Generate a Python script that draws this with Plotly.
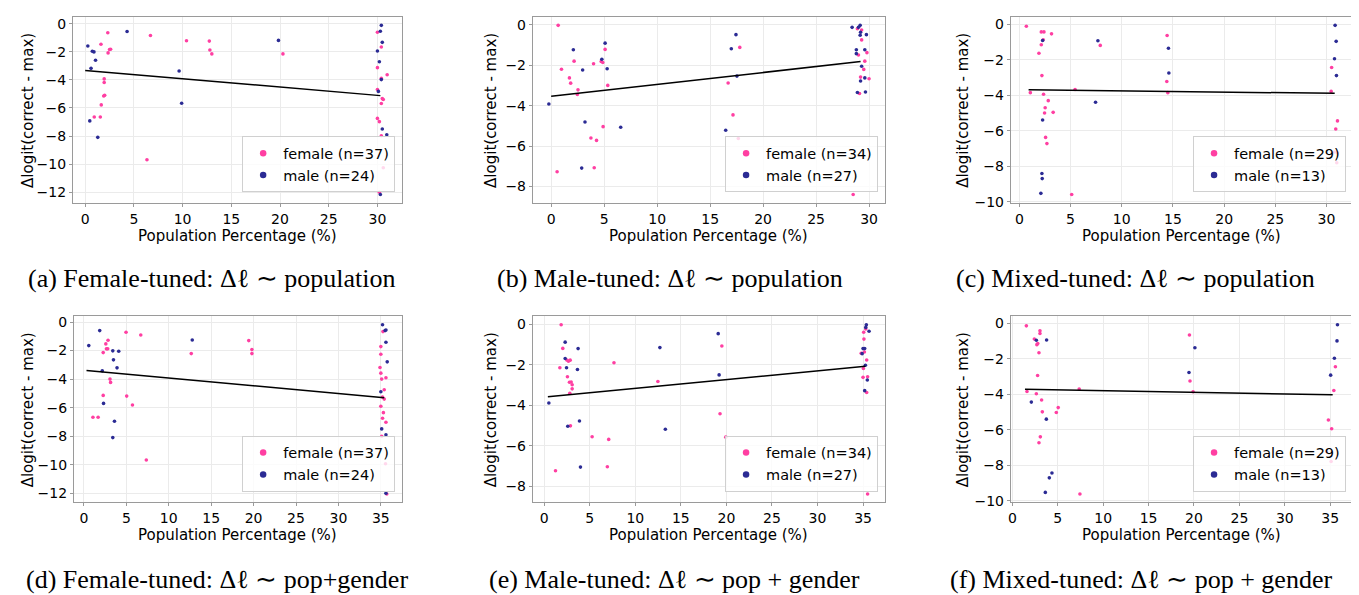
import plotly.graph_objects as go

W, H = 1359, 595
PINK = "#ff3fa2"
NAVY = "#2b2b94"

# ---------------- data ----------------
# (a) Female-tuned ~ population
a_female_x = [2.32, 1.62, 2.61, 2.5, 2.35, 6.70, 10.4, 12.74, 12.8, 13.0, 20.3, 1.95, 1.95, 2.0, 1.9, 1.65, 0.93, 1.55, 6.34,
              30.0, 30.4, 30.0, 30.4, 31.0, 30.0, 30.5, 30.6, 30.4, 30.0, 30.2, 30.4, 30.6, 30.2]
a_female_y = [-0.65, -1.47, -1.82, -1.84, -2.08, -0.84, -1.22, -1.24, -1.87, -2.15, -2.15, -3.93, -4.19, -5.1, -5.15, -5.78, -6.64, -6.64, -9.68,
              -0.61, -1.66, -3.13, -3.88, -3.63, -4.68, -5.33, -5.4, -5.68, -6.74, -6.97, -7.98, -10.25, -12.0]
a_male_x = [0.27, 0.73, 0.9, 1.06, 0.6, 4.3, 9.64, 9.9, 19.84, 0.47, 1.29,
            30.4, 30.3, 30.5, 30.0, 30.2, 30.4, 30.1, 30.5, 30.96, 30.3]
a_male_y = [-1.59, -1.96, -2.01, -2.6, -3.18, -0.56, -3.37, -5.66, -1.19, -6.92, -8.09,
            -0.12, -0.54, -1.33, -1.94, -2.71, -3.98, -4.82, -7.49, -7.91, -12.16]
a_fit_x = [0.0, 30.3]
a_fit_y = [-3.33, -5.12]

# (b) Male-tuned ~ population
b_female_x = [0.66, 0.97, 1.72, 1.84, 2.16, 2.53, 2.47, 4.0, 4.72, 4.87, 5.09, 5.34, 3.75, 4.28, 4.9, 0.56, 4.06, 16.7, 17.16, 17.66, 17.8,
              28.9, 29.3, 29.3, 29.0, 29.8, 29.6, 29.5, 29.2, 30.0, 29.1, 28.5]
b_female_y = [-0.03, -2.2, -2.63, -2.89, -1.8, -3.22, -3.45, -1.93, -1.82, -1.87, -1.22, -3.0, -5.6, -5.72, -5.04, -7.27, -7.07, -2.88, -4.46, -5.63, -1.12,
              -0.2, -0.26, -0.75, -1.5, -1.38, -1.8, -2.21, -2.59, -2.67, -3.4, -8.4]
b_male_x = [-0.22, 2.09, 2.97, 3.19, 2.88, 4.78, 5.09, 5.28, 6.56, 16.47, 17.0, 17.44, 17.53,
            28.4, 29.0, 29.16, 29.2, 29.16, 29.75, 28.8, 28.8, 29.6, 29.3, 29.6, 29.2, 28.9, 29.66]
b_male_y = [-3.92, -1.24, -2.24, -4.81, -7.09, -1.71, -0.91, -2.18, -5.07, -5.22, -1.19, -0.49, -2.54,
            -0.13, -0.13, -0.03, -0.37, -0.52, -0.49, -1.24, -1.43, -1.24, -2.05, -2.63, -2.78, -3.35, -3.33]
b_fit_x = [0.0, 29.2]
b_fit_y = [-3.54, -1.82]

# (c) Mixed-tuned ~ population
c_female_x = [0.68, 2.14, 2.4, 2.33, 2.14, 1.91, 3.14, 2.2, 1.07, 2.36, 2.82, 2.52, 2.46, 3.3, 2.56, 2.69, 5.44, 5.11, 7.9, 14.43, 14.4, 14.5,
              30.5, 30.45, 31.07, 30.9, 30.8, 31.07, 31.0]
c_female_y = [-0.11, -0.43, -0.43, -0.87, -1.15, -1.63, -0.54, -2.89, -3.85, -3.94, -4.3, -4.7, -5.0, -4.96, -6.37, -6.72, -3.67, -9.59, -1.19, -0.63, -3.22, -3.85,
              -2.43, -3.78, -5.44, -5.9, -7.19, -7.24, -7.8]
c_male_x = [2.27, 7.67, 14.56, 14.6, 7.44, 2.27, 2.2, 2.23, 2.1, 30.84, 30.94, 30.78, 30.97]
c_male_y = [-0.91, -0.93, -1.35, -2.74, -4.39, -5.39, -8.4, -8.69, -9.52, -0.06, -0.96, -1.94, -2.89]
c_fit_x = [0.9, 30.8]
c_fit_y = [-3.69, -3.89]

# (d) Female-tuned ~ pop + gender
d_female_x = [4.96, 6.7, 2.84, 2.58, 2.65, 2.8, 2.27, 3.07, 3.14, 2.27, 5.04, 5.72, 1.06, 1.67, 7.35, 12.65, 19.43, 19.8, 19.8,
              35.25, 35.0, 35.0, 34.9, 35.0, 35.6, 35.1, 35.4, 35.2, 35.4, 35.0, 35.3, 35.2, 35.6, 35.1, 35.55, 35.7]
d_female_y = [-0.72, -0.91, -1.28, -1.53, -1.88, -1.88, -2.14, -4.0, -4.23, -5.14, -5.19, -5.81, -6.67, -6.67, -9.67, -2.21, -1.3, -1.93, -2.21,
              -0.67, -1.72, -2.26, -3.19, -3.58, -3.9, -4.0, -4.74, -5.26, -5.4, -5.9, -6.35, -6.74, -7.02, -8.0, -9.93, -12.05]
d_male_x = [0.57, 1.86, 3.4, 4.1, 3.48, 3.9, 2.16, 2.31, 3.6, 3.4, 12.77,
            35.2, 35.5, 35.6, 35.6, 35.75, 35.0, 35.1, 35.6, 35.6]
d_male_y = [-1.65, -0.6, -2.02, -2.05, -2.65, -3.21, -3.42, -5.7, -6.95, -8.1, -1.26,
            -0.19, -0.6, -0.56, -1.42, -2.79, -4.88, -7.49, -7.9, -12.0]
d_fit_x = [0.3, 35.4]
d_fit_y = [-3.4, -5.3]

# (e) Male-tuned ~ pop + gender
e_female_x = [1.86, 2.04, 2.48, 2.66, 2.85, 1.72, 2.55, 2.77, 2.96, 3.07, 3.07, 2.81, 7.66, 12.48, 19.5, 19.3, 19.93, 2.88, 5.26, 7.08, 1.24, 6.93,
              35.07, 35.1, 35.3, 35.04, 35.4, 35.0, 35.5, 35.4, 34.8, 35.15, 35.5]
e_female_y = [-0.02, -1.19, -1.76, -1.82, -1.77, -2.15, -2.59, -2.86, -2.85, -2.99, -3.19, -3.41, -1.9, -2.83, -1.07, -4.42, -5.58, -5.02, -5.56, -5.69, -7.24, -7.04,
              -0.39, -0.73, -0.23, -2.18, -1.76, -2.62, -2.59, -3.37, -1.43, -1.37, -8.39]
e_male_x = [0.51, 2.3, 2.3, 2.45, 3.72, 3.65, 3.87, 2.59, 3.98, 12.7, 13.3, 19.1, 19.2,
            35.36, 35.3, 35.66, 35.0, 35.18, 34.9, 35.26, 35.47, 35.18]
e_male_y = [-3.89, -0.88, -1.69, -2.15, -1.2, -2.23, -4.78, -5.04, -7.06, -1.15, -5.19, -0.46, -2.5,
            -0.02, -0.15, -0.34, -1.2, -1.2, -1.45, -2.02, -2.75, -3.28]
e_fit_x = [0.4, 35.26]
e_fit_y = [-3.58, -2.07]

# (f) Mixed-tuned ~ pop + gender
f_female_x = [1.54, 3.04, 3.04, 2.42, 2.7, 2.8, 2.93, 2.78, 1.61, 2.64, 3.22, 3.3, 5.05, 4.84, 3.08, 2.93, 7.36, 7.44, 19.5, 19.56, 19.9,
              35.57, 35.4, 34.8, 35.16, 34.6, 35.1]
f_female_y = [-0.13, -0.41, -0.56, -0.87, -1.19, -1.13, -1.65, -2.93, -3.83, -3.96, -4.31, -4.98, -4.74, -5.02, -6.39, -6.72, -3.69, -9.61, -0.65, -3.24, -3.85,
              -2.44, -3.78, -5.44, -5.93, -7.22, -7.78]
f_male_x = [2.09, 2.64, 3.77, 3.74, 4.36, 4.07, 3.63, 20.1, 19.45, 35.8, 35.75, 35.46, 35.05]
f_male_y = [-4.43, -0.94, -0.93, -5.39, -8.43, -8.7, -9.52, -1.37, -2.76, -0.07, -0.98, -1.96, -2.91]
f_fit_x = [1.39, 35.27]
f_fit_y = [-3.7, -4.02]

legend_labels = {
    "a": ("female (n=37)", "male (n=24)"),
    "b": ("female (n=34)", "male (n=27)"),
    "c": ("female (n=29)", "male (n=13)"),
    "d": ("female (n=37)", "male (n=24)"),
    "e": ("female (n=34)", "male (n=27)"),
    "f": ("female (n=29)", "male (n=13)"),
}
captions = {
    "a": "(a) Female-tuned: Δℓ ∼ population",
    "b": "(b) Male-tuned: Δℓ ∼ population",
    "c": "(c) Mixed-tuned: Δℓ ∼ population",
    "d": "(d) Female-tuned: Δℓ ∼ pop+gender",
    "e": "(e) Male-tuned: Δℓ ∼ pop + gender",
    "f": "(f) Mixed-tuned: Δℓ ∼ pop + gender",
}
y_ticks = {
    "a": [0, -2, -4, -6, -8, -10, -12], "d": [0, -2, -4, -6, -8, -10, -12],
    "b": [0, -2, -4, -6, -8], "e": [0, -2, -4, -6, -8],
    "c": [0, -2, -4, -6, -8, -10], "f": [0, -2, -4, -6, -8, -10],
}
x_ticks_top = [0, 5, 10, 15, 20, 25, 30]
x_ticks_bottom = [0, 5, 10, 15, 20, 25, 30, 35]

series = {
    "a": (a_female_x, a_female_y, a_male_x, a_male_y, a_fit_x, a_fit_y),
    "b": (b_female_x, b_female_y, b_male_x, b_male_y, b_fit_x, b_fit_y),
    "c": (c_female_x, c_female_y, c_male_x, c_male_y, c_fit_x, c_fit_y),
    "d": (d_female_x, d_female_y, d_male_x, d_male_y, d_fit_x, d_fit_y),
    "e": (e_female_x, e_female_y, e_male_x, e_male_y, e_fit_x, e_fit_y),
    "f": (f_female_x, f_female_y, f_male_x, f_male_y, f_fit_x, f_fit_y),
}

# ---------------- layout (pixel boxes: left, right, top, bottom) ----------------
boxes = {
    "a": (62, 392, 7, 196), "b": (523, 876, 7, 196), "c": (1002, 1345, 7, 196),
    "d": (63, 392, 311, 500), "e": (523, 876, 311, 500), "f": (1002, 1345, 311, 500),
}
ytitle_x = {"a": 17, "b": 481, "c": 954, "d": 17, "e": 481, "f": 954}
caption_pos = {"a": (201, 273), "b": (660, 273), "c": (1127, 273),
               "d": (206, 578), "e": (665, 578), "f": (1133, 578)}

TICKFONT = dict(family="DejaVu Sans", size=14, color="black")


def fx(px):
    return px / W


def fy(py):
    return 1 - py / H


def padded(vals_a, vals_b):
    v = list(vals_a) + list(vals_b)
    lo, hi = min(v), max(v)
    span = hi - lo
    return [lo - 0.05 * span, hi + 0.05 * span]


fig = go.Figure()
annotations = []
layout = dict(
    width=W, height=H, margin=dict(l=0, r=0, t=0, b=0),
    paper_bgcolor="white", plot_bgcolor="white", showlegend=True,
)

for i, key in enumerate(["a", "b", "c", "d", "e", "f"], start=1):
    fxs, fys, mxs, mys, lx, ly = series[key]
    sfx = "" if i == 1 else str(i)
    xa, ya = "x" + sfx, "y" + sfx
    leg = "legend" + sfx
    l, r, t, b = boxes[key]
    top_row = key in "abc"

    fig.add_trace(go.Scatter(x=fxs, y=fys, mode="markers", xaxis=xa, yaxis=ya,
                             marker=dict(color=PINK, size=3.6, line=dict(width=0)),
                             showlegend=False, hoverinfo="skip"))
    fig.add_trace(go.Scatter(x=mxs, y=mys, mode="markers", xaxis=xa, yaxis=ya,
                             marker=dict(color=NAVY, size=3.6, line=dict(width=0)),
                             showlegend=False, hoverinfo="skip"))
    fig.add_trace(go.Scatter(x=lx, y=ly, mode="lines", xaxis=xa, yaxis=ya,
                             line=dict(color="black", width=1.5),
                             showlegend=False, hoverinfo="skip"))
    # legend entries
    fl, ml = legend_labels[key]
    fig.add_trace(go.Scatter(x=[None], y=[None], mode="markers", xaxis=xa, yaxis=ya,
                             marker=dict(color=PINK, size=6.5), name=fl, legend=leg))
    fig.add_trace(go.Scatter(x=[None], y=[None], mode="markers", xaxis=xa, yaxis=ya,
                             marker=dict(color=NAVY, size=6.5), name=ml, legend=leg))

    axis_common = dict(
        showgrid=True, gridcolor="#ebebeb", gridwidth=1,
        zeroline=False, showline=True, linecolor="#9a9a9a", linewidth=1, mirror=True,
        ticks="outside", ticklen=3, tickcolor="#9a9a9a", tickfont=TICKFONT,
    )
    layout["xaxis" + sfx] = dict(
        axis_common, domain=[fx(l), fx(r)], anchor=ya,
        range=padded(fxs, mxs),
        tickvals=x_ticks_top if top_row else x_ticks_bottom,
    )
    layout["yaxis" + sfx] = dict(
        axis_common, domain=[fy(b), fy(t)], anchor=xa,
        range=padded(fys, mys),
        tickvals=y_ticks[key],
    )
    layout[leg] = dict(
        x=fx(r - 7), xanchor="right", y=fy(b - 11), yanchor="bottom",
        bgcolor="rgba(255,255,255,0.8)", bordercolor="#d0d0d0", borderwidth=1,
        font=dict(family="DejaVu Sans", size=14.5, color="black"),
        tracegroupgap=0, itemwidth=30,
    )

    annotations.append(dict(
        text="Population Percentage (%)", x=fx((l + r) / 2), y=fy(b + 33),
        xref="paper", yref="paper", showarrow=False, xanchor="center", yanchor="middle",
        font=dict(family="DejaVu Sans", size=15, color="black")))
    annotations.append(dict(
        text="Δlogit(correct - max)", x=fx(ytitle_x[key]), y=fy((t + b) / 2),
        xref="paper", yref="paper", showarrow=False, xanchor="center", yanchor="middle",
        textangle=-90, font=dict(family="DejaVu Sans", size=15, color="black")))
    cx, cy = caption_pos[key]
    annotations.append(dict(
        text=captions[key], x=fx(cx), y=fy(cy),
        xref="paper", yref="paper", showarrow=False, xanchor="center", yanchor="middle",
        font=dict(family="Liberation Serif", size=26, color="black")))

layout["annotations"] = annotations
fig.update_layout(**layout)
fig.write_html("out.html")
